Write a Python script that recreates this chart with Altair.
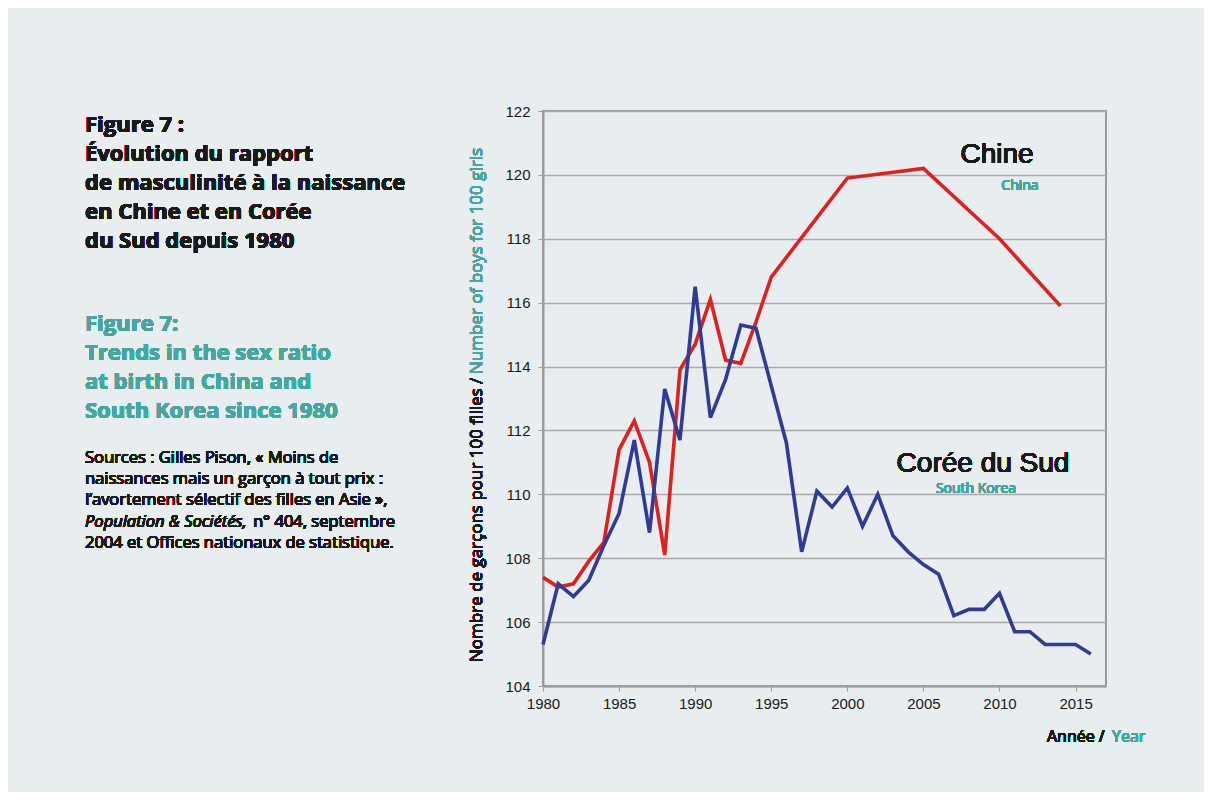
import altair as alt
import pandas as pd

# ---- data ----
china_years = [1980, 1981, 1982, 1983, 1984, 1985, 1986, 1987, 1988, 1989, 1990,
               1991, 1992, 1993, 1994, 1995, 2000, 2005, 2010, 2014]
china_values = [107.4, 107.1, 107.2, 107.9, 108.5, 111.4, 112.3, 111.0, 108.1, 113.9, 114.7,
                116.1, 114.2, 114.1, 115.4, 116.8, 119.9, 120.2, 118.0, 115.9]

korea_years = list(range(1980, 2017))
korea_values = [105.3, 107.2, 106.8, 107.3, 108.4, 109.4, 111.7, 108.8, 113.3, 111.7,
                116.5, 112.4, 113.6, 115.3, 115.2, 113.4, 111.6, 108.2, 110.1, 109.6,
                110.2, 109.0, 110.0, 108.7, 108.2, 107.8, 107.5, 106.2, 106.4, 106.4,
                106.9, 105.7, 105.7, 105.3, 105.3, 105.3, 105.0]

x_ticks = [1980, 1985, 1990, 1995, 2000, 2005, 2010, 2015]
y_ticks = [104, 106, 108, 110, 112, 114, 116, 118, 120, 122]

series_names = ["Chine", "Corée du Sud"]
series_colors = ["#E0201E", "#2F3B94"]

TEAL = "#46A6A0"
DARK = "#1A1A1A"
HUM = "Open Sans"
ARIAL = "Liberation Sans"

df = pd.concat([
    pd.DataFrame({"year": china_years, "value": china_values, "pays": "Chine"}),
    pd.DataFrame({"year": korea_years, "value": korea_values, "pays": "Corée du Sud"}),
])

W, H = 563, 575

lines = alt.Chart(df).mark_line(strokeWidth=3.6, strokeJoin="miter").encode(
    x=alt.X("year:Q",
            scale=alt.Scale(domain=[1980, 2017], nice=False, zero=False),
            axis=alt.Axis(values=x_ticks, format="d", title=None, grid=False,
                          labelFont=ARIAL, labelFontSize=15, labelColor=DARK,
                          labelPadding=5, tickSize=5, tickColor="#9A9A9A",
                          domainColor="#9A9A9A", domainWidth=2, labelFlush=False)),
    y=alt.Y("value:Q",
            scale=alt.Scale(domain=[104, 122], nice=False, zero=False),
            axis=alt.Axis(values=y_ticks, title=None, grid=True, gridColor="#A9A9A9",
                          gridWidth=1.5, labelFont=ARIAL, labelFontSize=15,
                          labelColor=DARK, labelPadding=8, tickSize=5,
                          tickColor="#9A9A9A", domainColor="#9A9A9A", domainWidth=2)),
    color=alt.Color("pays:N", scale=alt.Scale(domain=series_names, range=series_colors),
                    legend=None),
    detail="pays:N",
)


def txt(text, x, y, size, color=DARK, font=HUM, weight="normal", align="left",
        style="normal", line_height=None, angle=0, baseline="alphabetic"):
    kw = dict(text=text, align=align, baseline=baseline, font=font, fontSize=size,
              fontWeight=weight, fontStyle=style, color=color)
    if line_height:
        kw["lineBreak"] = "\n"
        kw["lineHeight"] = line_height
    if angle:
        kw["angle"] = angle
    return alt.Chart().mark_text(**kw).encode(x=alt.value(x), y=alt.value(y))


LX = -458
texts = [
    txt("Figure 7 :\nÉvolution du rapport\nde masculinité à la naissance\nen Chine et en Corée\ndu Sud depuis 1980",
        LX, 21, 22, weight="bold", line_height=29),
    txt("Figure 7:\nTrends in the sex ratio\nat birth in China and\nSouth Korea since 1980",
        LX, 220, 22, color=TEAL, weight="bold", line_height=29),
    txt("Sources : Gilles Pison, « Moins de\nnaissances mais un garçon à tout prix :\nl’avortement sélectif des filles en Asie »,",
        LX, 352, 16.5, line_height=21),
    txt("Population & Sociétés,", LX, 416, 16.5, style="italic"),
    txt("n° 404, septembre", -290, 416, 16.5),
    txt("2004 et Offices nationaux de statistique.", LX, 437, 16.5),
    # y axis title (two colours)
    txt("Nombre de garçons pour 100 filles /", -66, 551, 17, angle=270,
        baseline="middle"),
    txt("Number of boys for 100 girls", -66, 263, 17, color=TEAL, angle=270,
        baseline="middle"),
    # x axis title
    txt("Année /", 504, 631, 16),
    txt("Year", 569, 631, 16, color=TEAL),
    # series labels
    txt("Chine", 454, 52, 28, font=ARIAL, align="center"),
    txt("China", 477, 79, 14, color=TEAL, align="center"),
    txt("Corée du Sud", 440, 361, 28, font=ARIAL, align="center"),
    txt("South Korea", 433, 382, 14, color=TEAL, align="center"),
]

chart = alt.layer(lines, *texts, data=df).properties(
    width=W, height=H,
    background="#E8EEF0",
    padding={"left": 535, "top": 103, "right": 98, "bottom": 106},
    autosize=alt.AutoSizeParams(type="none"),
).configure_view(
    stroke="#9A9A9A", strokeWidth=2, fill="#E8EEF0"
)

chart.save("out.html", embed_options={"renderer": "svg", "actions": False})
